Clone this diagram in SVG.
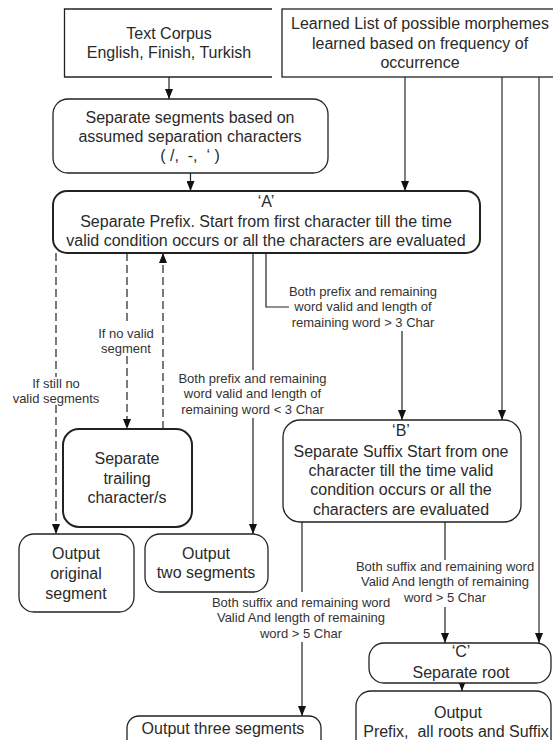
<svg xmlns="http://www.w3.org/2000/svg" width="553" height="740" viewBox="0 0 553 740">
<defs>
<marker id="ah" viewBox="0 0 10 8" refX="10" refY="4" markerWidth="10" markerHeight="8" markerUnits="userSpaceOnUse" orient="auto">
<path d="M0,0 L10,4 L0,8 z" fill="#111"/>
</marker>
</defs>
<style>
.box{fill:#fff;stroke:#222;stroke-width:1.3}
.thick{stroke-width:2}
.t{font-family:"Liberation Sans",Arial,sans-serif;font-size:16px;fill:#2a2a2a;text-anchor:middle}
.l{font-family:"Liberation Sans",Arial,sans-serif;font-size:13px;fill:#333;text-anchor:middle}
.c{fill:none;stroke:#222;stroke-width:1.2}
.g{fill:none;stroke:#808080;stroke-width:2}
.d{fill:none;stroke:#333;stroke-width:1.3;stroke-dasharray:8 4}
</style>
<rect x="0" y="0" width="553" height="740" fill="#fff"/>

<g id="connectors">
<path class="c" d="M169,77 V99" marker-end="url(#ah)"/>
<path class="c" d="M190.5,173 V191" marker-end="url(#ah)"/>
<path class="g" d="M405,77 V191" marker-end="url(#ah)"/>
<path class="g" d="M502,77 V420" marker-end="url(#ah)"/>
<path class="g" d="M539,77 V643" marker-end="url(#ah)"/>
<path class="c" d="M266,253 V307 H289"/>
<path class="c" d="M402,331 V420" marker-end="url(#ah)"/>
<path class="c" d="M253,253 V370"/>
<path class="c" d="M253,418 V534" marker-end="url(#ah)"/>
<path class="d" d="M56,253 V377"/>
<path class="d" d="M56,405 V534" marker-end="url(#ah)"/>
<path class="d" d="M127,253 V323"/>
<path class="d" d="M127,356 V429" marker-end="url(#ah)"/>
<path class="d" d="M163,429 V253" marker-end="url(#ah)"/>
<path class="c" d="M302,522 V592"/>
<path class="c" d="M302,642 V716" marker-end="url(#ah)"/>
<path class="c" d="M445,522 V560"/>
<path class="c" d="M445,607 V643" marker-end="url(#ah)"/>
<path class="c" d="M462,683 V691" marker-end="url(#ah)"/>
<text class="l" x="363" y="295.5">Both prefix and remaining</text>
<text class="l" x="363" y="311">word valid and length of</text>
<text class="l" x="363" y="326.5">remaining word &gt; 3 Char</text>
<text class="l" x="252.5" y="382.5">Both prefix and remaining</text>
<text class="l" x="252.5" y="398">word valid and length of</text>
<text class="l" x="252.5" y="413.5">remaining word &lt; 3 Char</text>
<text class="l" x="56" y="387.5">If still no</text>
<text class="l" x="56" y="402.5">valid segments</text>
<text class="l" x="126" y="337.5">If no valid</text>
<text class="l" x="126" y="352.5">segment</text>
<text class="l" x="301" y="606.5">Both suffix and remaining word</text>
<text class="l" x="301" y="622">Valid And length of remaining</text>
<text class="l" x="301" y="637.5">word &gt; 5 Char</text>
<text class="l" x="445" y="570.5">Both suffix and remaining word</text>
<text class="l" x="445" y="586">Valid And length of remaining</text>
<text class="l" x="445" y="601.5">word &gt; 5 Char</text>
</g>

<g id="corpus">
<path class="box" d="M272,9 H64.5 V77 H272"/>
<text class="t" x="169" y="38.5">Text Corpus</text>
<text class="t" x="169" y="58">English, Finish, Turkish</text>
</g>

<g id="learned">
<rect class="box" x="282" y="9" width="290" height="68"/>
<text class="t" x="420" y="29">Learned List of possible morphemes</text>
<text class="t" x="420" y="48.5">learned based on frequency of</text>
<text class="t" x="420" y="68">occurrence</text>
</g>

<g id="separate-segments">
<rect class="box" x="53" y="99" width="275" height="74" rx="15"/>
<text class="t" x="190" y="122.5">Separate segments based on</text>
<text class="t" x="190" y="141.5">assumed separation characters</text>
<text class="t" x="190" y="160.5" xml:space="preserve">( /,  -,  ‘ )</text>
</g>

<g id="A">
<rect class="box thick" x="53" y="191" width="427" height="62" rx="14"/>
<text class="t" x="266" y="207">‘A’</text>
<text class="t" x="266" y="227">Separate Prefix. Start from first character till the time</text>
<text class="t" x="266" y="246">valid condition occurs or all the characters are evaluated</text>
</g>

<g id="trailing">
<rect class="box thick" x="63" y="429" width="129" height="98" rx="16"/>
<text class="t" x="127" y="464">Separate</text>
<text class="t" x="127" y="484">trailing</text>
<text class="t" x="127" y="503">character/s</text>
</g>

<g id="output-original">
<rect class="box" x="19" y="534" width="115" height="78" rx="15"/>
<text class="t" x="76" y="559">Output</text>
<text class="t" x="76" y="579">original</text>
<text class="t" x="76" y="599">segment</text>
</g>

<g id="output-two">
<rect class="box" x="145" y="534" width="123" height="58" rx="15"/>
<text class="t" x="206" y="559">Output</text>
<text class="t" x="206" y="578">two segments</text>
</g>

<g id="B">
<rect class="box" x="283" y="420" width="238" height="102" rx="17" stroke-width="1.5"/>
<text class="t" x="401" y="436">‘B’</text>
<text class="t" x="401" y="457">Separate Suffix Start from one</text>
<text class="t" x="401" y="476">character till the time valid</text>
<text class="t" x="401" y="495">condition occurs or all the</text>
<text class="t" x="401" y="515">characters are evaluated</text>
</g>

<g id="C">
<rect class="box" x="369" y="643" width="182" height="40" rx="15"/>
<text class="t" x="461" y="657">‘C’</text>
<text class="t" x="461" y="678">Separate root</text>
</g>

<g id="output-final">
<rect class="box" x="356" y="691" width="195" height="70" rx="15"/>
<text class="t" x="458" y="718">Output</text>
<text class="t" x="456" y="737" xml:space="preserve">Prefix,  all roots and Suffix</text>
</g>

<g id="output-three">
<rect class="box" x="127" y="716" width="194" height="40" rx="12"/>
<text class="t" x="223" y="734">Output three segments</text>
</g>
</svg>
